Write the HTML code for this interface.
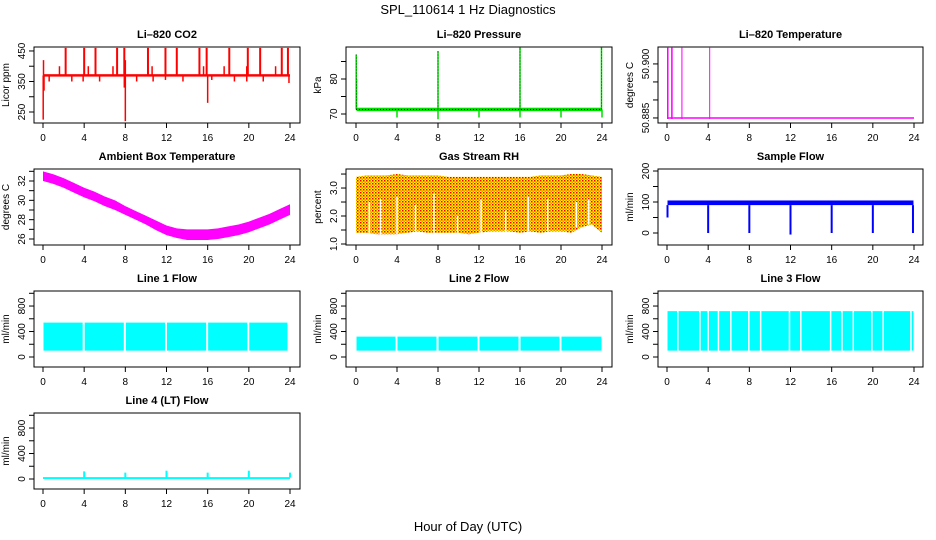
<!DOCTYPE html>
<html><head><meta charset="utf-8"><style>
html,body{margin:0;padding:0;background:#fff;}
svg{display:block;font-family:"Liberation Sans",Arial,sans-serif;}
</style></head><body>
<svg id="chart" width="936" height="540" viewBox="0 0 936 540" xmlns="http://www.w3.org/2000/svg">
<rect width="936" height="540" fill="#fff"/>
<text x="468" y="14" text-anchor="middle" font-size="13">SPL_110614  1 Hz Diagnostics</text>
<text x="468" y="531" text-anchor="middle" font-size="13">Hour of Day (UTC)</text>
</svg>
<script>
// ---- data arrays ----
const xTicks = [0,4,8,12,16,20,24];
// CO2
const co2Base = 370;
const co2SpikeHours = [2.2,4.0,5.1,7.2,7.9,10.2,11.9,13.0,15.2,15.9,18.1,19.9,21.1,23.2,23.8];
const co2SpikeVals = [460,460,460,460,460,460,460,460,460,460,460,460,460,460,460];
const co2DipHours = [0.02,0.1,0.6,2.8,3.9,5.5,7.9,8.0,9.1,10.7,11.9,13.6,16.0,16.4,18.6,19.8,21.4,23.9];
const co2DipVals = [225,320,350,350,350,350,330,220,350,350,355,350,280,355,350,350,350,345];
const co2BumpHours = [0.05,1.6,4.4,6.8,8.0,10.6,15.6,17.6,19.8,22.6];
const co2BumpVals = [420,400,400,400,420,400,400,400,400,400];
// Pressure
const presBase = 71.3;
const presSpikeHours = [0.02,0.05,8.0,16.0,23.95];
const presSpikeVals = [87,80,88,89,89];
const presDipHours = [4.0,8.0,12.0,16.0,20.0,24.0];
const presDipVals = [69,68.5,69,69,69,69];
// Li-820 temperature
const tempBase = 50.885;
const tempBarStart = [0.0,0.4,1.4,4.1];
const tempBarEnd = [0.15,0.55,1.5,4.12];
const tempBarTop = [50.9045,50.9045,50.9045,50.9045];
// Ambient box temperature (hourly)
const ambHours = [0,1,2,3,4,5,6,7,8,9,10,11,12,13,14,15,16,17,18,19,20,21,22,23,24];
const ambUpper = [33.0,32.7,32.3,31.8,31.3,30.9,30.4,30.0,29.4,28.9,28.4,27.9,27.4,27.1,27.0,27.0,27.0,27.1,27.3,27.5,27.8,28.2,28.6,29.1,29.6];
const ambLower = [32.0,31.7,31.3,30.8,30.3,29.9,29.4,29.0,28.5,28.0,27.5,26.9,26.4,26.1,25.9,25.9,25.9,26.0,26.2,26.4,26.7,27.1,27.5,28.0,28.5];
// Gas stream RH (hourly)
const rhHours = [0,1,2,3,4,5,6,7,8,9,10,11,12,13,14,15,16,17,18,19,20,21,22,23,24];
const rhUpper = [3.4,3.45,3.45,3.45,3.5,3.45,3.45,3.45,3.45,3.4,3.4,3.4,3.4,3.4,3.4,3.4,3.4,3.4,3.45,3.45,3.45,3.5,3.5,3.45,3.4];
const rhLower = [1.4,1.4,1.35,1.35,1.35,1.4,1.45,1.4,1.4,1.4,1.4,1.35,1.4,1.45,1.45,1.45,1.4,1.45,1.4,1.45,1.45,1.4,1.6,1.7,1.4];
const rhDipHours = [1.3,2.4,4.0,5.8,7.6,9.9,12.2,14.6,16.8,18.7,20.4,21.5,22.7];
const rhDipVals = [2.5,2.6,2.7,2.4,2.8,2.0,2.6,2.2,2.7,2.6,1.1,2.5,2.6];
// Sample flow
const sfUpper = 105, sfLower = 90;
const sfDipHours = [0.05,4.0,8.0,12.0,16.0,20.0,23.9];
const sfDipVals = [50,0,0,-5,0,0,0];
// Line flows
const l1Upper = 540, l1Lower = 100;
const l1GapHours = [3.95,7.95,11.95,15.95,19.95,23.85];
const l2Upper = 320, l2Lower = 100;
const l2GapHours = [3.95,7.95,11.95,15.95,19.95];
const l3Upper = 720, l3Lower = 100;
const l3GapHours = [1.05,3.2,4.0,5.0,6.2,7.95,9.1,11.9,13.0,15.9,17.0,18.1,19.9,21.0,23.7];
const l4Base = 20;
const l4SpikeHours = [4.0,8.0,12.0,16.0,20.0,24.0];
const l4SpikeVals = [120,100,130,100,130,100];

// ---- layout ----
const NS="http://www.w3.org/2000/svg";
const svg=document.getElementById('chart');
const rowTop=[47,169,291,413], BH=76;
const cols=[[34,300,43,290],[346,612,356,602],[658,923,667,914]];
function el(tag,attrs,parent){const e=document.createElementNS(NS,tag);for(const k in attrs)e.setAttribute(k,attrs[k]);(parent||svg).appendChild(e);return e;}
function panel(name,title,ylab,r,c,ymin,ymax,yTicks,yLabels){
  const g=el('g',{});
  
  
  const [bl,br,x0,x1]=cols[c]; const bt=rowTop[r], bb=bt+BH;
  const xs=h=>x0+(x1-x0)*h/24;
  const ys=v=>bb-(v-ymin)/(ymax-ymin)*BH;
  const t=el('text',{x:(bl+br)/2,y:bt-9,'text-anchor':'middle','font-size':11,'font-weight':'bold'},g);t.textContent=title;
  
  
  const plot=el('g',{},g);
  
  
  const box=el('rect',{x:bl,y:bt,width:br-bl,height:BH,fill:'none',stroke:'#000','stroke-width':1},g);
  
  
  const xa=el('g',{},g);
  
  
  el('line',{x1:xs(0),x2:xs(24),y1:bb,y2:bb,stroke:'#000'},xa);
  xTicks.forEach(h=>{el('line',{x1:xs(h),x2:xs(h),y1:bb,y2:bb+5,stroke:'#000'},xa);
    const tx=el('text',{x:xs(h),y:bb+18,'text-anchor':'middle','font-size':10},xa);tx.textContent=h;});
  const ya=el('g',{},g);
  
  
  el('line',{x1:bl,x2:bl,y1:ys(yTicks[0]),y2:ys(yTicks[yTicks.length-1]),stroke:'#000'},ya);
  yTicks.forEach(v=>el('line',{x1:bl-5,x2:bl,y1:ys(v),y2:ys(v),stroke:'#000'},ya));
  yLabels.forEach(v=>{const tx=el('text',{x:bl-9,y:ys(v),'text-anchor':'middle','font-size':10,transform:`rotate(-90 ${bl-9} ${ys(v)})`},ya);tx.textContent=v;});
  const yl=el('text',{x:bl-25,y:(bt+bb)/2,'text-anchor':'middle','font-size':10,transform:`rotate(-90 ${bl-25} ${(bt+bb)/2})`},g);yl.textContent=ylab;
  
  
  return {plot,xs,ys};
}
function vline(p,x,y1,y2,color,w){return el('line',{x1:x,x2:x,y1:y1,y2:y2,stroke:color,'stroke-width':w||1},p);}
function band(p,h0,h1,lo,hi,xs,ys,color){return el('rect',{x:xs(h0),y:ys(hi),width:Math.max(1,xs(h1)-xs(h0)),height:ys(lo)-ys(hi),fill:color},p);}

// CO2
(function(){const P=panel('co2','Li\u2013820 CO2','Licor ppm',0,0,214,463,[250,300,350,400,450],[250,350,450]);
 const {plot,xs,ys}=P;
 band(plot,0.05,24,co2Base-4,co2Base+4,xs,ys,'#f00');
 co2SpikeHours.forEach((h,i)=>vline(plot,xs(h),ys(co2Base),ys(co2SpikeVals[i]),'#f00',2));
 co2DipHours.forEach((h,i)=>vline(plot,xs(h),ys(co2Base),ys(co2DipVals[i]),'#f00',1.5));
 co2BumpHours.forEach((h,i)=>vline(plot,xs(h),ys(co2Base),ys(co2BumpVals[i]),'#f00',1.5));
})();
// Pressure
(function(){const P=panel('pressure','Li\u2013820 Pressure','kPa',0,1,67.43,89.14,[70,75,80,85],[70,80]);
 const {plot,xs,ys}=P;
 band(plot,0.05,24,presBase-0.5,presBase+0.5,xs,ys,'#0d0');
 el('line',{x1:xs(0),x2:xs(24),y1:ys(presBase),y2:ys(presBase),stroke:'#000','stroke-dasharray':'1 2'},plot);
 presSpikeHours.forEach((h,i)=>{vline(plot,xs(h),ys(presBase),ys(presSpikeVals[i]),'#0d0',1.5);vline(plot,xs(h),ys(presBase),ys(presSpikeVals[i]),'#000',0.6).setAttribute('stroke-dasharray','1 2');});
 presDipHours.forEach((h,i)=>vline(plot,xs(h),ys(presBase),ys(presDipVals[i]),'#0d0',1.5));
})();
// Li-820 Temperature
(function(){const P=panel('li820-temp','Li\u2013820 Temperature','degrees C',0,2,50.8836,50.9047,[50.885,50.890,50.895,50.900],['50.885','50.900']);
 const {plot,xs,ys}=P;
 el('line',{x1:xs(0),x2:xs(24),y1:ys(tempBase),y2:ys(tempBase),stroke:'#f0f','stroke-width':1.5},plot);
 tempBarStart.forEach((h,i)=>{const x0=xs(h),x1=xs(tempBarEnd[i]);el('rect',{x:x0,y:ys(tempBarTop[i]),width:Math.max(1,x1-x0),height:ys(tempBase)-ys(tempBarTop[i])+1,fill:'#f0f'},plot);});
})();
// Ambient
(function(){const P=panel('ambient-temp','Ambient Box Temperature','degrees C',1,0,25.38,33.24,[26,27,28,29,30,31,32,33],[26,28,30,32]);
 const {plot,xs,ys}=P;
 let pts=ambHours.map((h,i)=>xs(h)+','+ys(ambUpper[i]));
 pts=pts.concat(ambHours.slice().reverse().map((h,j)=>{const i=ambHours.length-1-j;return xs(h)+','+ys(ambLower[i]);}));
 el('polygon',{points:pts.join(' '),fill:'#f0f'},plot);
})();
// RH
(function(){const P=panel('gas-rh','Gas Stream RH','percent',1,1,0.964,3.68,[1.0,1.5,2.0,2.5,3.0,3.5],['1.0','2.0','3.0']);
 const {plot,xs,ys}=P;
 const defs=el('defs',{},plot);
 const pat=el('pattern',{id:'rhpat',width:3,height:3,patternUnits:'userSpaceOnUse'},defs);
 el('rect',{width:3,height:3,fill:'#ff0'},pat);el('rect',{width:1.5,height:1.5,fill:'#e00'},pat);el('rect',{x:1.5,y:1.5,width:1.5,height:1.5,fill:'#f80'},pat);
 let pts=rhHours.map((h,i)=>xs(h)+','+ys(rhUpper[i]));
 pts=pts.concat(rhHours.slice().reverse().map((h,j)=>{const i=rhHours.length-1-j;return xs(h)+','+ys(rhLower[i]);}));
 el('polygon',{points:pts.join(' '),fill:'url(#rhpat)'},plot);
 rhDipHours.forEach((h,i)=>vline(plot,xs(h),ys(rhLower[Math.round(h)]),ys(rhDipVals[i]),'#fff',1.5));
})();
// Sample flow
(function(){const P=panel('sample-flow','Sample Flow','ml/min',1,2,-38.7,206.5,[0,50,100,150,200],[0,100,200]);
 const {plot,xs,ys}=P;
 band(plot,0.05,23.95,sfLower,sfUpper,xs,ys,'#00f');
 sfDipHours.forEach((h,i)=>vline(plot,xs(h),ys(sfLower),ys(sfDipVals[i]),'#00f',2));
})();
function flowPanel(name,title,r,c,up,lo,gaps,gw){
 const P=panel(name,title,'ml/min',r,c,-157,1036,[0,200,400,600,800,1000],[0,400,800]);
 const {plot,xs,ys}=P;
 band(plot,0.05,23.95,lo,up,xs,ys,'#0ff');
 gaps.forEach(h=>vline(plot,xs(h),ys(up)-1,ys(lo)+1,'#fff',gw));
}
flowPanel('line1-flow','Line 1 Flow',2,0,l1Upper,l1Lower,l1GapHours,2);
flowPanel('line2-flow','Line 2 Flow',2,1,l2Upper,l2Lower,l2GapHours,2);
flowPanel('line3-flow','Line 3 Flow',2,2,l3Upper,l3Lower,l3GapHours,1.5);
// Line 4
(function(){const P=panel('line4-flow','Line 4 (LT) Flow','ml/min',3,0,-157,1036,[0,200,400,600,800,1000],[0,400,800]);
 const {plot,xs,ys}=P;
 band(plot,0,24,l4Base-20,l4Base+10,xs,ys,'#0ff');
 l4SpikeHours.forEach((h,i)=>vline(plot,xs(h),ys(l4Base),ys(l4SpikeVals[i]),'#0ff',2));
})();
</script>
</body></html>
